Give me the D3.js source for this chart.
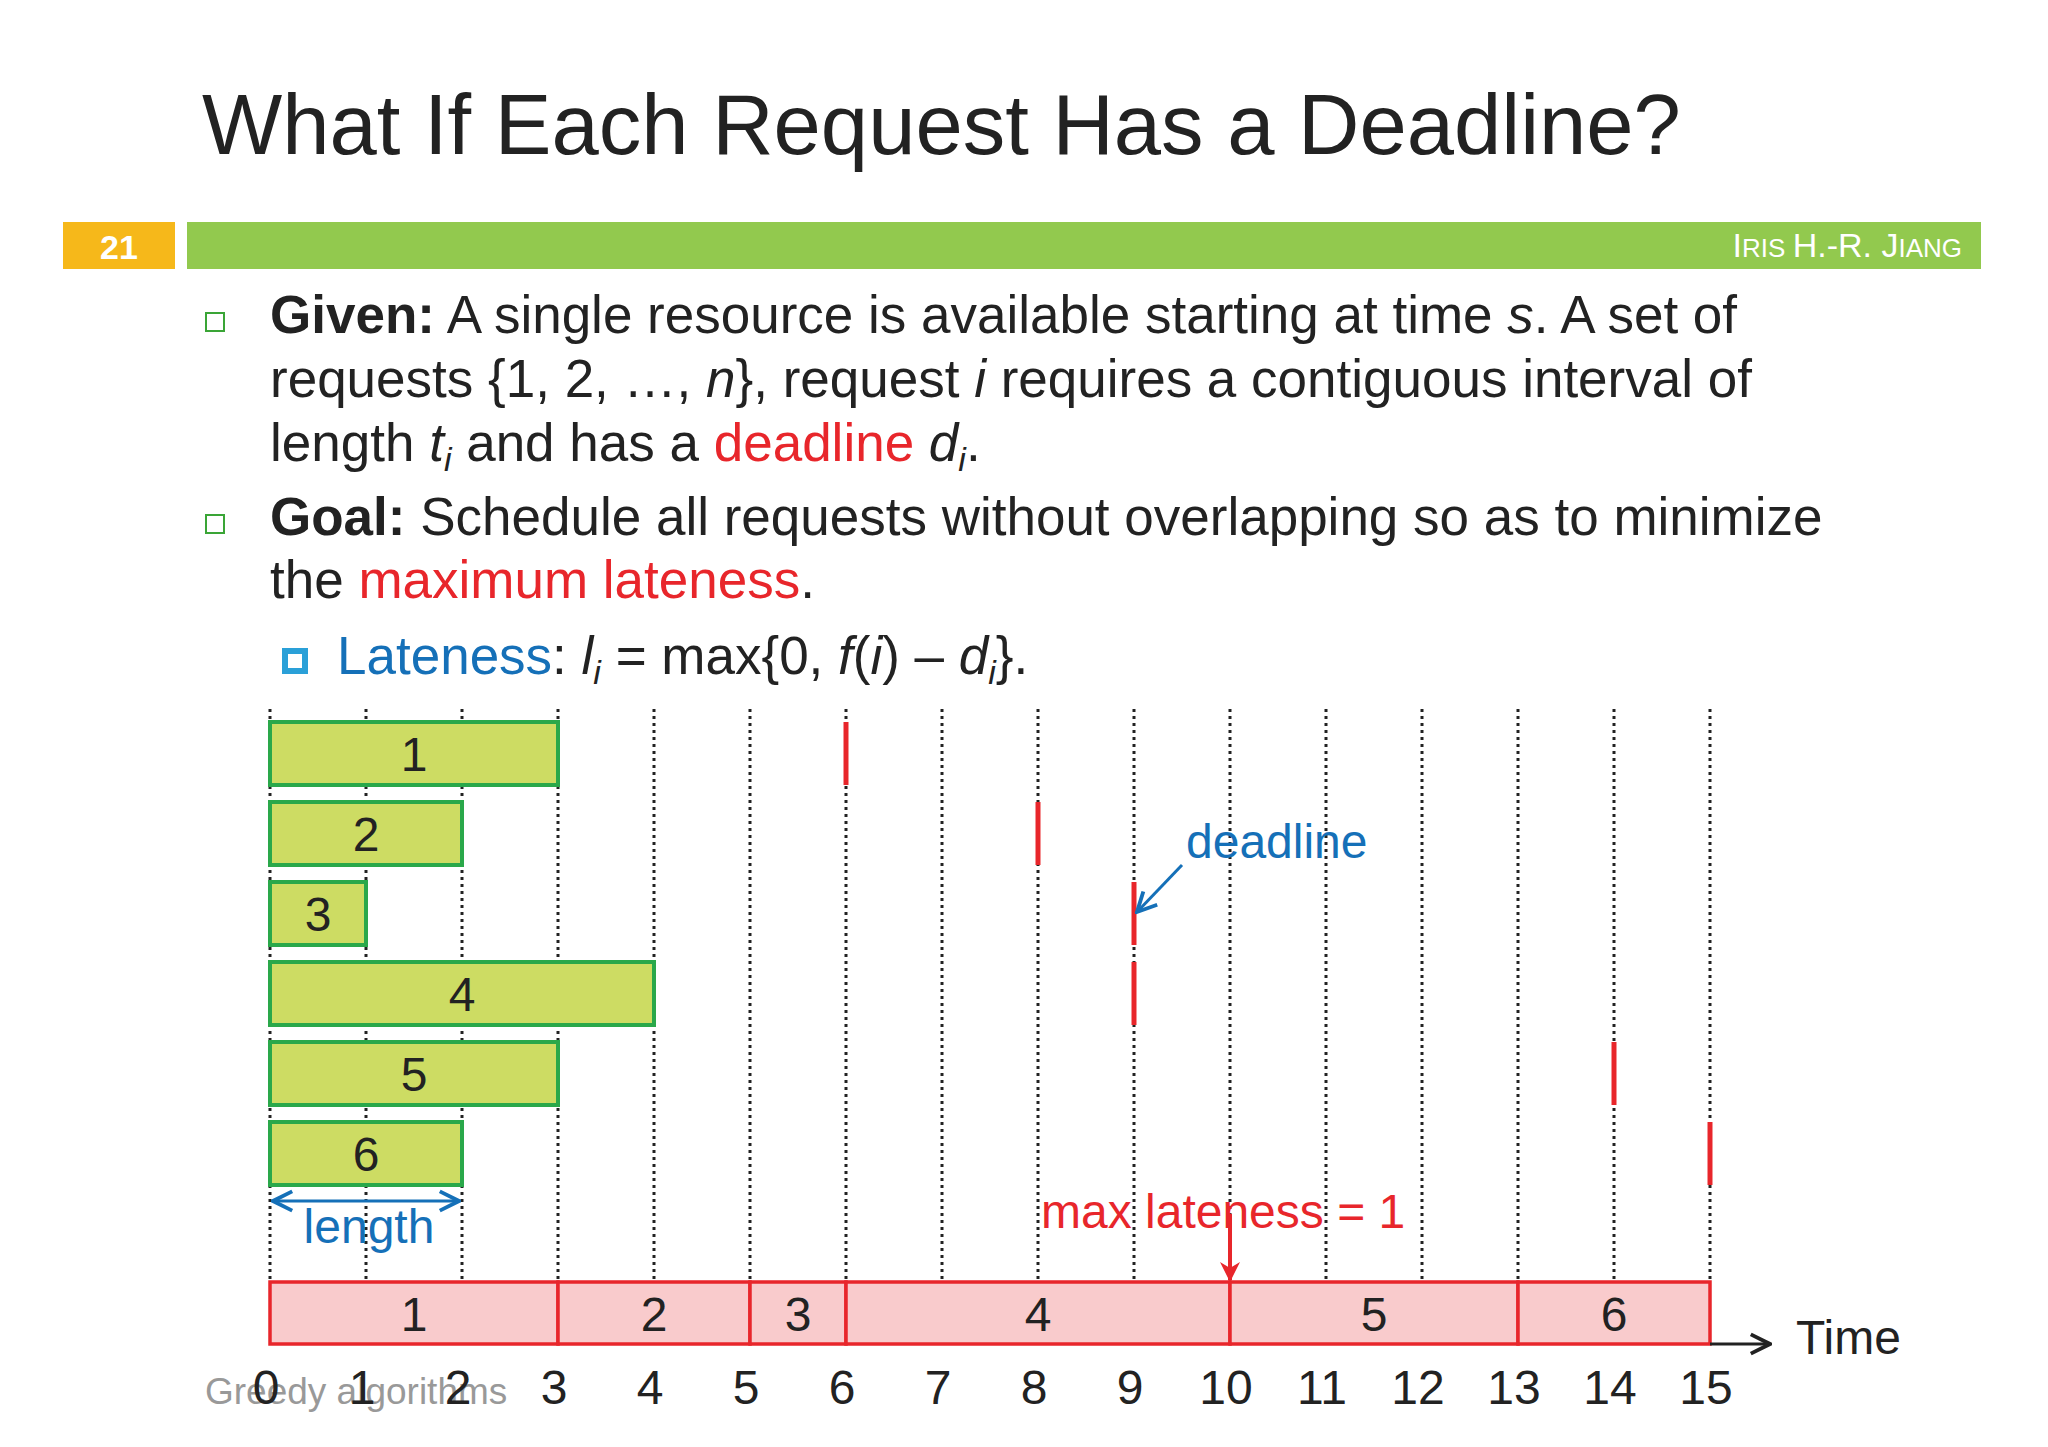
<!DOCTYPE html>
<html><head><meta charset="utf-8">
<script src="https://cdn.jsdelivr.net/npm/d3@7"></script>
<style>body{margin:0;background:#fff}svg{font-family:"Liberation Sans",Arial,sans-serif}</style>
</head><body><svg id="c" width="2048" height="1447"></svg>
<script>
// requests: length and deadline
const jobs = ["1", "2", "3", "4", "5", "6"];
const lengths = [3, 2, 1, 4, 3, 2];
const deadlines = [6, 8, 9, 9, 14, 15];
const ticks = d3.range(0, 16);
// schedule order (earliest deadline first)
const schedule = [[0, 3, "1"], [3, 5, "2"], [5, 6, "3"], [6, 10, "4"], [10, 13, "5"], [13, 15, "6"]];

const svg = d3.select("#c");
const x = d3.scaleLinear().domain([0, 15]).range([270, 1710]);
const y = d3.scaleBand().domain(jobs).range([722, 1185]).paddingInner(0.2125);

const defs = svg.append("defs");
function marker(id, color) {
    defs.append("marker").attr("id", id).attr("viewBox", "0 0 10 10").attr("refX", 9).attr("refY", 5)
        .attr("markerWidth", 8).attr("markerHeight", 8).attr("orient", "auto-start-reverse")
        .append("path").attr("d", "M1,1 L9,5 L1,9").attr("fill", "none").attr("stroke", color).attr("stroke-width", 1.6);
}
marker("ab", "#1570b8"); marker("ak", "#222");
defs.append("marker").attr("id", "ar").attr("viewBox", "0 0 10 10").attr("refX", 9).attr("refY", 5)
    .attr("markerWidth", 5).attr("markerHeight", 5).attr("orient", "auto")
    .append("path").attr("d", "M0,0 L10,5 L0,10 L3,5 Z").attr("fill", "#e8262b");

// header
svg.append("text").attr("x", 202).attr("y", 154).attr("font-size", 85).attr("fill", "#222")
    .text("What If Each Request Has a Deadline?");
svg.append("rect").attr("x", 63).attr("y", 222).attr("width", 112).attr("height", 47).attr("fill", "#f6b81a");
svg.append("text").attr("x", 119).attr("y", 259).attr("text-anchor", "middle").attr("font-size", 34)
    .attr("font-weight", "bold").attr("fill", "#fff").text("21");
svg.append("rect").attr("x", 187).attr("y", 222).attr("width", 1794).attr("height", 47).attr("fill", "#92c94e");
const hdr = svg.append("text").attr("x", 1962).attr("y", 257).attr("text-anchor", "end").attr("fill", "#fff").attr("font-size", 34);
[["I", 34], ["RIS ", 26], ["H.-R. J", 34], ["IANG", 26]].forEach(([t, s]) => hdr.append("tspan").attr("font-size", s).text(t));

// bullets
function line(yy, parts, x0, size) {
    const t = svg.append("text").attr("x", x0).attr("y", yy).attr("font-size", size || 53).attr("fill", "#222");
    parts.forEach(p => {
        const s = t.append("tspan").text(p.t);
        if (p.b) s.attr("font-weight", "bold");
        if (p.i) s.attr("font-style", "italic");
        if (p.c) s.attr("fill", p.c);
        if (p.sub) s.attr("font-size", 34).attr("dy", 10);
        if (p.up) s.attr("dy", -10);
    });
}
[333, 535].forEach(yy => svg.append("rect").attr("x", 206).attr("y", yy - 20).attr("width", 18).attr("height", 18)
    .attr("fill", "none").attr("stroke", "#3aa536").attr("stroke-width", 2));
const red = "#e8262b", blue = "#1570b8";
line(333, [{t: "Given:", b: 1}, {t: " A single resource is available starting at time "}, {t: "s", i: 1}, {t: ". A set of"}], 270);
line(397, [{t: "requests {1, 2, …, "}, {t: "n", i: 1}, {t: "}, request "}, {t: "i", i: 1}, {t: " requires a contiguous interval of"}], 270);
line(461, [{t: "length "}, {t: "t", i: 1}, {t: "i", i: 1, sub: 1}, {t: " and has a ", up: 1}, {t: "deadline", c: red}, {t: " "}, {t: "d", i: 1}, {t: "i", i: 1, sub: 1}, {t: ".", up: 1}], 270);
line(535, [{t: "Goal:", b: 1}, {t: " Schedule all requests without overlapping so as to minimize"}], 270);
line(598, [{t: "the "}, {t: "maximum lateness", c: red}, {t: "."}], 270);
svg.append("rect").attr("x", 285).attr("y", 651).attr("width", 20).attr("height", 20).attr("fill", "none")
    .attr("stroke", "#2aa0d8").attr("stroke-width", 6);
line(674, [{t: "Lateness", c: blue}, {t: ": "}, {t: "l", i: 1}, {t: "i", i: 1, sub: 1}, {t: " = max{0, ", up: 1}, {t: "f", i: 1}, {t: "("}, {t: "i", i: 1}, {t: ") – "}, {t: "d", i: 1}, {t: "i", i: 1, sub: 1}, {t: "}.", up: 1}], 337);

// dotted grid
svg.append("g").selectAll("line").data(ticks).join("line")
    .attr("x1", d => x(d)).attr("x2", d => x(d)).attr("y1", 709).attr("y2", 1281)
    .attr("stroke", "#222").attr("stroke-width", 3).attr("stroke-dasharray", "3,4");

// request bars
svg.append("g").selectAll("rect").data(jobs).join("rect")
    .attr("x", x(0)).attr("y", d => y(d)).attr("width", (d, i) => x(lengths[i]) - x(0)).attr("height", y.bandwidth())
    .attr("fill", "#cddc63").attr("stroke", "#2aa84a").attr("stroke-width", 4);
svg.append("g").selectAll("text").data(jobs).join("text")
    .attr("x", (d, i) => x(lengths[i] / 2)).attr("y", d => y(d) + y.bandwidth() / 2 + 17)
    .attr("text-anchor", "middle").attr("font-size", 48).attr("fill", "#222").text(d => d);
// deadlines
svg.append("g").selectAll("line").data(jobs).join("line")
    .attr("x1", (d, i) => x(deadlines[i])).attr("x2", (d, i) => x(deadlines[i]))
    .attr("y1", d => y(d)).attr("y2", d => y(d) + y.bandwidth())
    .attr("stroke", red).attr("stroke-width", 5);

// annotations
svg.append("line").attr("x1", x(0) + 3).attr("x2", x(2) - 3).attr("y1", 1201).attr("y2", 1201)
    .attr("stroke", blue).attr("stroke-width", 3).attr("marker-start", "url(#ab)").attr("marker-end", "url(#ab)");
svg.append("text").attr("x", x(1) + 3).attr("y", 1243).attr("text-anchor", "middle").attr("font-size", 48).attr("fill", blue).text("length");
svg.append("text").attr("x", 1186).attr("y", 858).attr("font-size", 48).attr("fill", blue).text("deadline");
svg.append("line").attr("x1", 1182).attr("y1", 865).attr("x2", x(9) + 3).attr("y2", 912)
    .attr("stroke", blue).attr("stroke-width", 3).attr("marker-end", "url(#ab)");
svg.append("text").attr("x", 1041).attr("y", 1228).attr("font-size", 48).attr("fill", red).text("max lateness = 1");
svg.append("line").attr("x1", x(10)).attr("x2", x(10)).attr("y1", 1214).attr("y2", 1280)
    .attr("stroke", red).attr("stroke-width", 4).attr("marker-end", "url(#ar)");

// schedule
const sg = svg.append("g");
sg.selectAll("rect").data(schedule).join("rect")
    .attr("x", d => x(d[0])).attr("y", 1282).attr("width", d => x(d[1]) - x(d[0])).attr("height", 62)
    .attr("fill", "#f9cbcc").attr("stroke", red).attr("stroke-width", 3.5);
sg.selectAll("text").data(schedule).join("text")
    .attr("x", d => x((d[0] + d[1]) / 2)).attr("y", 1331).attr("text-anchor", "middle")
    .attr("font-size", 48).attr("fill", "#222").text(d => d[2]);
svg.append("line").attr("x1", x(15)).attr("x2", 1770).attr("y1", 1344).attr("y2", 1344)
    .attr("stroke", "#222").attr("stroke-width", 3).attr("marker-end", "url(#ak)");
svg.append("text").attr("x", 1796).attr("y", 1354).attr("font-size", 48).attr("fill", "#222").text("Time");

// axis labels
svg.append("text").attr("x", 205).attr("y", 1404).attr("font-size", 37).attr("fill", "#999").text("Greedy algorithms");
svg.append("g").selectAll("text").data(ticks).join("text")
    .attr("x", d => x(d) - 4).attr("y", 1404).attr("text-anchor", "middle")
    .attr("font-size", 48).attr("fill", "#222").text(d => d);
</script></body></html>
